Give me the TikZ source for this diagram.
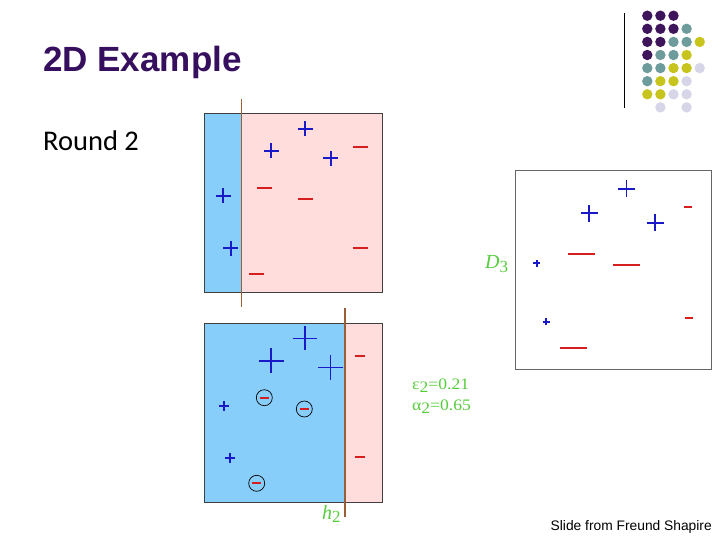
\documentclass[tikz,border=0pt]{standalone}
\usepackage{fontspec}
\setmainfont{Liberation Serif}
\newfontfamily\arialfont{Liberation Sans}
\newfontfamily\calfont{Carlito}
\definecolor{ttl}{RGB}{55,15,95}
\definecolor{dpur}{RGB}{62,20,90}
\definecolor{dteal}{RGB}{110,155,155}
\definecolor{dyel}{RGB}{200,196,30}
\definecolor{dlav}{RGB}{214,214,232}
\definecolor{pblue}{RGB}{25,25,200}
\definecolor{mred}{RGB}{215,30,30}
\definecolor{brn}{RGB}{155,95,55}
\definecolor{grn}{RGB}{85,205,60}
\definecolor{fblue}{RGB}{135,206,250}
\definecolor{fpink}{RGB}{255,221,221}
\newcommand\pmk[4]{\draw[pblue,line width=#4] ({#1-#3},{#2}) -- ({#1+#3},{#2}) ({#1},{#2-#3}) -- ({#1},{#2+#3});}
\newcommand\mmk[4]{\draw[mred,line width=#4] ({#1-#3},{#2}) -- ({#1+#3},{#2});}
\newcommand\cmk[2]{\draw[black,line width=0.7] (#1,#2) circle (8); \mmk{#1}{#2}{4.5}{2}}
\tikzset{panel/.style={draw=black!75,line width=1},
  sep/.style={brn,line width=1.5},
  glab/.style={text=grn,inner sep=0,anchor=base west}}
\begin{document}
\begin{tikzpicture}[x=1pt,y=-1pt]
\useasboundingbox (0,0) rectangle (720,540);
% title
\node[anchor=base west,inner sep=0,text=ttl,font=\arialfont\bfseries\fontsize{35}{40}\selectfont] (title) at (43,72) {2D Example};
\node[anchor=base west,inner sep=0,font=\calfont\fontsize{28.5}{34}\selectfont] (round) at (43,151) {Round 2};
% decoration dots
\draw[black,line width=1] (624,13) -- (624,108);
\foreach \r/\c/\col in {0/0/dpur,0/1/dpur,0/2/dpur,
 1/0/dpur,1/1/dpur,1/2/dpur,1/3/dteal,
 2/0/dpur,2/1/dpur,2/2/dteal,2/3/dteal,2/4/dyel,
 3/0/dpur,3/1/dteal,3/2/dteal,3/3/dyel,
 4/0/dteal,4/1/dteal,4/2/dyel,4/3/dyel,4/4/dlav,
 5/0/dteal,5/1/dyel,5/2/dyel,5/3/dlav,
 6/0/dyel,6/1/dyel,6/2/dlav,6/3/dlav,
 7/1/dlav,7/3/dlav}
 \fill[\col] ({647.3+13.1*\c},{15.7+13.1*\r}) circle (5.2);
% top panel
\fill[fblue] (204.3,113.3) rectangle (241.5,292.3);
\fill[fpink] (241.5,113.3) rectangle (382.7,292.3);
\draw[panel] (204.3,113.3) rectangle (382.7,292.3);
\draw[sep] (241.5,99) -- (241.5,306.5);
\pmk{305}{129}{7.5}{1.8}
\pmk{271.3}{151}{7.5}{2}
\pmk{330.7}{158.3}{7.5}{2}
\pmk{223.3}{195.7}{7.5}{2}
\pmk{230.7}{248.3}{7.5}{2}
\mmk{360}{146.7}{7.5}{2}
\mmk{264}{188.3}{7.5}{1.7}
\mmk{305}{199.3}{7.5}{1.7}
\mmk{360}{248}{7.5}{2.4}
\mmk{256.7}{274}{7.5}{1.8}
% bottom panel
\fill[fblue] (204.3,323.3) rectangle (345,502.3);
\fill[fpink] (345,323.3) rectangle (382.7,502.3);
\draw[panel] (204.3,323.3) rectangle (382.7,502.3);
\draw[sep] (345,308) -- (345,517);
\pmk{305}{338.3}{12}{1.6}
\pmk{271.3}{360.7}{12.5}{1.8}
\pmk{330.7}{367.7}{12.5}{1.3}
\pmk{224}{406}{5}{2.4}
\pmk{230.3}{457.7}{5}{2}
\cmk{264.3}{397.7}
\cmk{304.3}{409}
\cmk{256.7}{483.3}
\mmk{360.3}{355.7}{5}{2.2}
\mmk{360.3}{456.7}{5}{1.8}
\node[glab,font=\itshape\fontsize{20}{22}\selectfont] (h2) at (322,519) {h\raisebox{-0.4ex}{\fontsize{17}{19}\selectfont\upshape 2}};
% right panel
\draw[draw=black!60,line width=0.8] (515.7,170.7) rectangle (711.7,369.3);
\pmk{626.7}{189}{8.5}{1.4}
\pmk{589.3}{213.3}{8.5}{2.2}
\pmk{655}{222.7}{8.5}{2.2}
\pmk{536.7}{263.3}{3.5}{2}
\pmk{546}{321.7}{3.5}{2.2}
\mmk{688}{207.3}{4}{2.2}
\mmk{688.7}{318}{4}{2.2}
\mmk{581}{254}{13.5}{1.7}
\mmk{626.7}{265}{13.5}{2.4}
\mmk{573.3}{347.7}{13.5}{1.7}
\node[glab,font=\itshape\fontsize{20}{22}\selectfont] (d3) at (485,268.3) {D\raisebox{-0.45ex}{\fontsize{17}{19}\selectfont\upshape 3}};
% epsilon / alpha
\node[glab] (eps) at (412,389) {\scalebox{1.1}[1]{\fontsize{16}{18}\selectfont ε\raisebox{-0.5ex}{2}=0.21}};
\node[glab] (alp) at (412,410) {\scalebox{1.1}[1]{\fontsize{16}{18}\selectfont α\raisebox{-0.5ex}{2}=0.65}};
% footer
\node[anchor=base west,inner sep=0,font=\arialfont\fontsize{13.8}{16}\selectfont] (foot) at (550.5,530.7) {Slide from Freund Shapire};
\end{tikzpicture}
\end{document}
